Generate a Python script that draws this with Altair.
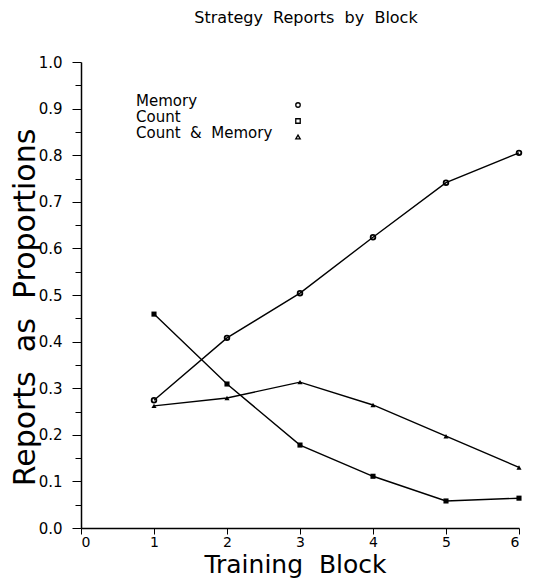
import altair as alt
import pandas as pd

blocks = [1, 2, 3, 4, 5, 6]
memory = [0.274, 0.408, 0.504, 0.624, 0.741, 0.805]
count = [0.459, 0.309, 0.178, 0.111, 0.058, 0.064]
count_memory = [0.262, 0.279, 0.313, 0.264, 0.197, 0.130]
series = ["Memory", "Count", "Count\u00a0 &\u00a0 Memory"]
chart_title = "Strategy\u00a0 Reports\u00a0 by\u00a0 Block"
x_ticks = [0, 1, 2, 3, 4, 5, 6]
y_ticks = [0.0, 0.1, 0.2, 0.3, 0.4, 0.5, 0.6, 0.7, 0.8, 0.9, 1.0]
y_minor = [0.05, 0.15, 0.25, 0.35, 0.45, 0.55, 0.65, 0.75, 0.85, 0.95]

FONT = "DejaVu Sans"
W, H = 438, 466
LEFT, TOP = 73, 54
BOTTOM = 570 - TOP - H
OX, OY = LEFT + 8, TOP + 8  # page position of the plot origin

df = pd.DataFrame({
    "block": blocks * 3,
    "value": memory + count + count_memory,
    "series": [series[0]] * 6 + [series[1]] * 6 + [series[2]] * 6,
})

xs = alt.Scale(domain=[0, 6], nice=False, zero=True)
ys = alt.Scale(domain=[0, 1], nice=False)

xenc = alt.X("block:Q", scale=xs, axis=alt.Axis(
    values=x_ticks, format="d", title="Training\u00a0 Block", grid=False,
    labelFont=FONT, labelFontSize=14, labelColor="black", labelPadding=1,
    tickSize=6, tickColor="black", domainColor="black", domainWidth=1.5,
    titleFont=FONT, titleFontSize=25, titleFontWeight="normal", titleColor="black",
    titleX=214, titleY=572 - OY - H, titleBaseline="alphabetic", titleAlign="center"))
yenc = alt.Y("value:Q", scale=ys, axis=alt.Axis(
    orient="left", values=y_ticks, format=".1f", title="Reports\u00a0 as\u00a0 Proportions", grid=False,
    labelFont=FONT, labelFontSize=15, labelColor="black", labelPadding=10,
    tickSize=9, tickColor="black", domainColor="black", domainWidth=1.5,
    titleFont=FONT, titleFontSize=30, titleFontWeight="normal", titleColor="black",
    titleX=34 - OX, titleY=307 - OY, titleBaseline="alphabetic",
    titleAlign="center", titleAngle=-90))

px = alt.X("block:Q", scale=xs)
py = alt.Y("value:Q", scale=ys, axis=None)

base = alt.Chart(df)
lines = base.mark_line(color="black", strokeWidth=1.4).encode(x=xenc, y=yenc, detail="series:N")

pts_mem = base.transform_filter(alt.datum.series == series[0]).mark_point(
    shape="circle", filled=False, color="black", strokeWidth=1.8, size=22, opacity=1
).encode(x=px, y=py)
pts_cnt = base.transform_filter(alt.datum.series == series[1]).mark_point(
    shape="square", filled=True, color="black", size=26, opacity=1
).encode(x=px, y=py)
pts_cm = base.transform_filter(alt.datum.series == series[2]).mark_point(
    shape="triangle-up", filled=True, color="black", size=26, opacity=1
).encode(x=px, y=py)

minor = alt.Chart(pd.DataFrame({"v": y_minor})).mark_tick(opacity=0).encode(
    y=alt.Y("v:Q", scale=ys, axis=alt.Axis(orient="left", values=y_minor, labels=False,
                                          title=None, grid=False, tickSize=6,
                                          tickColor="black", domain=False)))

title = alt.Chart(pd.DataFrame({"t": [chart_title]})).mark_text(
    align="center", baseline="alphabetic", font=FONT, fontSize=16, color="black"
).encode(text="t:N", x=alt.value(306 - OX), y=alt.value(23 - OY))

# legend (text on the left, symbol on the right)
leg_y = [106, 122, 138]
leg = []
shapes = ["circle", "square", "triangle-up"]
for i, name in enumerate(series):
    leg.append(alt.Chart(pd.DataFrame({"t": [name]})).mark_text(
        align="left", baseline="alphabetic", font=FONT, fontSize=15, color="black"
    ).encode(text="t:N", x=alt.value(136 - OX), y=alt.value(leg_y[i] - OY)))
    leg.append(alt.Chart(pd.DataFrame({"t": [name]})).mark_point(
        shape=shapes[i], filled=False, color="black", strokeWidth=1.3, size=20, opacity=1
    ).encode(x=alt.value(298 - OX), y=alt.value(leg_y[i] - 1 - OY)))

chart = alt.layer(lines, minor, pts_mem, pts_cnt, pts_cm, title, *leg).resolve_axis(
    y="independent"
).properties(
    width=W, height=H,
    autosize=alt.AutoSizeParams(type="none"),
    padding={"left": LEFT, "top": TOP, "right": 6, "bottom": BOTTOM},
    background="white",
).configure_view(stroke=None)

chart.save("out.html", embed_options={"renderer": "svg", "actions": False})
